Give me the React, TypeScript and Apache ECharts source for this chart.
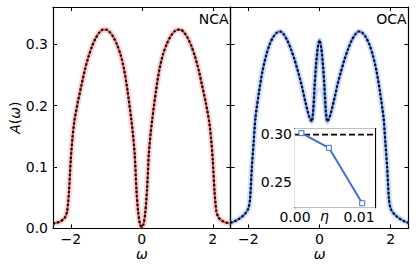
import React, { useEffect, useRef } from 'react';
import * as echarts from 'echarts';

// NCA panel: omega grid and spectral function
const ncaOmega = [-2.5, -2.4, -2.3, -2.2, -2.15, -2.1, -2.05, -2.0, -1.95, -1.9, -1.8, -1.7, -1.6, -1.5, -1.4, -1.3, -1.2, -1.1, -1.0, -0.9, -0.8, -0.7, -0.6, -0.5, -0.4, -0.3, -0.25, -0.2, -0.15, -0.1, -0.05, 0, 0.05, 0.1, 0.15, 0.2, 0.25, 0.3, 0.4, 0.5, 0.6, 0.7, 0.8, 0.9, 1.0, 1.1, 1.2, 1.3, 1.4, 1.5, 1.6, 1.7, 1.8, 1.9, 1.95, 2.0, 2.05, 2.1, 2.15, 2.2, 2.3, 2.4, 2.5];
const ncaA = [0.008, 0.009, 0.011, 0.015, 0.019, 0.028, 0.060, 0.112, 0.148, 0.174, 0.206, 0.233, 0.259, 0.280, 0.297, 0.310, 0.319, 0.324, 0.324, 0.320, 0.312, 0.300, 0.284, 0.260, 0.224, 0.180, 0.155, 0.122, 0.064, 0.026, 0.007, 0.002, 0.007, 0.026, 0.064, 0.122, 0.155, 0.180, 0.224, 0.260, 0.284, 0.300, 0.312, 0.320, 0.324, 0.324, 0.319, 0.310, 0.297, 0.280, 0.259, 0.233, 0.206, 0.174, 0.148, 0.112, 0.060, 0.028, 0.019, 0.015, 0.011, 0.009, 0.008];

// OCA panel
const ocaOmega = [-2.5, -2.4, -2.3, -2.2, -2.1, -2.0, -1.95, -1.9, -1.85, -1.8, -1.7, -1.6, -1.5, -1.4, -1.3, -1.2, -1.1, -1.0, -0.9, -0.8, -0.7, -0.6, -0.5, -0.4, -0.3, -0.25, -0.22, -0.18, -0.14, -0.1, -0.05, 0, 0.05, 0.1, 0.14, 0.18, 0.22, 0.25, 0.3, 0.4, 0.5, 0.6, 0.7, 0.8, 0.9, 1.0, 1.1, 1.2, 1.3, 1.4, 1.5, 1.6, 1.7, 1.8, 1.85, 1.9, 1.95, 2.0, 2.1, 2.2, 2.3, 2.4, 2.5];
const ocaA = [0.009, 0.011, 0.014, 0.018, 0.023, 0.032, 0.048, 0.100, 0.140, 0.180, 0.222, 0.257, 0.282, 0.300, 0.312, 0.319, 0.321, 0.316, 0.306, 0.292, 0.275, 0.255, 0.233, 0.207, 0.184, 0.177, 0.174, 0.190, 0.230, 0.265, 0.294, 0.307, 0.294, 0.265, 0.230, 0.190, 0.174, 0.177, 0.184, 0.207, 0.233, 0.255, 0.275, 0.292, 0.306, 0.316, 0.321, 0.319, 0.312, 0.300, 0.282, 0.257, 0.222, 0.180, 0.140, 0.100, 0.048, 0.032, 0.023, 0.018, 0.014, 0.011, 0.009];

// faint OCA curves with larger broadening, central region
const ocaCenterOmega = [-0.22, -0.18, -0.14, -0.1, -0.05, 0, 0.05, 0.1, 0.14, 0.18, 0.22];
const ocaEta005 = [0.174, 0.188, 0.225, 0.255, 0.278, 0.286, 0.278, 0.255, 0.225, 0.188, 0.174];
const ocaEta01 = [0.174, 0.184, 0.203, 0.215, 0.224, 0.228, 0.224, 0.215, 0.203, 0.184, 0.174];

// inset: central peak height vs eta
const insetEta = [0.001, 0.0053, 0.0105];
const insetPeak = [0.301, 0.2858, 0.2283];
const exactPeak = 0.2995;

const xTicks = [-2, 0, 2];
const yTicks = [0, 0.1, 0.2, 0.3];
const insetXTicks = [0, 0.01];
const insetYTicks = [0.25, 0.3];

const RED = '#d4504c';
const BLUE = '#3f6de0';
const FONT = 'DejaVu Sans';

const pair = (xs: number[], ys: number[]) => xs.map((x, i) => [x, ys[i]]);

const line = { show: true, onZero: false, lineStyle: { color: '#000', width: 1.2 } };
const tick = (vals: number[]) => ({ show: true, inside: true, length: 4, customValues: vals, lineStyle: { color: '#000', width: 1 } });
const minus = (v: number) => (v < 0 ? '\u2212' + Math.abs(v) : String(v));

function mainX(grid: number, pos: string, labels: boolean) {
  return {
    type: 'value', gridIndex: grid, position: pos, min: -2.5, max: 2.5,
    axisLine: line, axisTick: tick(xTicks), splitLine: { show: false },
    axisLabel: { show: labels, customValues: xTicks, formatter: minus, margin: 4, fontSize: 14, lineHeight: 14, color: '#000', fontFamily: FONT },
    name: labels ? 'ω' : '', nameLocation: 'middle', nameGap: 19, nameMoveOverlap: false,
    nameTextStyle: { fontSize: 14, lineHeight: 14, fontStyle: 'italic', color: '#000', fontFamily: FONT },
  };
}
function mainY(grid: number, pos: string, labels: boolean) {
  return {
    type: 'value', gridIndex: grid, position: pos, min: 0, max: 0.361,
    axisLine: line, axisTick: tick(yTicks), splitLine: { show: false },
    axisLabel: { show: labels, customValues: yTicks, formatter: (v: number) => v.toFixed(1), margin: 5, fontSize: 14, color: '#000', fontFamily: FONT },
    name: labels ? '{i|A}({i|ω})' : '', nameLocation: 'middle', nameGap: 31, nameMoveOverlap: false,
    nameTextStyle: { fontSize: 14, color: '#000', fontFamily: FONT, rich: { i: { fontSize: 14, fontStyle: 'italic', fontFamily: FONT, color: '#000' } } },
  };
}
function insetX(pos: string, labels: boolean) {
  return {
    type: 'value', gridIndex: 2, position: pos, min: 0, max: 0.0125,
    axisLine: line, axisTick: tick(insetXTicks), splitLine: { show: false },
    axisLabel: { show: labels, customValues: insetXTicks, formatter: (v: number) => v.toFixed(2), margin: 2, fontSize: 14, color: '#000', fontFamily: FONT },
  };
}
function insetY(pos: string, labels: boolean) {
  return {
    type: 'value', gridIndex: 2, position: pos, min: 0.2237, max: 0.306,
    axisLine: line, axisTick: tick(insetYTicks), splitLine: { show: false },
    axisLabel: { show: labels, customValues: insetYTicks, formatter: (v: number) => v.toFixed(2), margin: 3, fontSize: 14, color: '#000', fontFamily: FONT },
  };
}

function curveSeries(xi: number, yi: number, data: number[][], color: string) {
  return [
    { type: 'line', xAxisIndex: xi, yAxisIndex: yi, data, symbol: 'none', smooth: 0.25, z: 2,
      lineStyle: { color, width: 6, opacity: 0.22 } },
    { type: 'line', xAxisIndex: xi, yAxisIndex: yi, data, symbol: 'none', smooth: 0.25, z: 3,
      lineStyle: { color, width: 2 } },
    { type: 'line', xAxisIndex: xi, yAxisIndex: yi, data, symbol: 'none', smooth: 0.25, z: 4,
      lineStyle: { color: '#000', width: 2.2, type: [2, 2.3], cap: 'butt' } },
  ];
}

export default function App() {
  const ref = useRef<HTMLDivElement>(null);
  useEffect(() => {
    const chart = echarts.init(ref.current as HTMLDivElement, null, { renderer: 'svg' });
    chart.setOption({
      animation: false,
      backgroundColor: '#fff',
      textStyle: { fontFamily: FONT },
      grid: [
        { left: 53, top: 7, width: 177.5, height: 221.3 },
        { left: 230.5, top: 7, width: 178, height: 221.3 },
        { left: 295, top: 128.3, width: 80, height: 79.4, show: true, backgroundColor: '#fff', borderColor: '#000', borderWidth: 0, z: 5 },
      ],
      xAxis: [mainX(0, 'bottom', true), mainX(0, 'top', false), mainX(1, 'bottom', true), mainX(1, 'top', false), insetX('bottom', true), insetX('top', false)],
      yAxis: [mainY(0, 'left', true), mainY(0, 'right', false), mainY(1, 'left', false), mainY(1, 'right', false), insetY('left', true), insetY('right', false)],
      series: [
        ...curveSeries(0, 0, pair(ncaOmega, ncaA), RED),
        { type: 'line', xAxisIndex: 2, yAxisIndex: 2, data: pair(ocaCenterOmega, ocaEta005), symbol: 'none', smooth: 0.25, z: 2, lineStyle: { color: BLUE, width: 3, opacity: 0.2 } },
        { type: 'line', xAxisIndex: 2, yAxisIndex: 2, data: pair(ocaCenterOmega, ocaEta01), symbol: 'none', smooth: 0.25, z: 2, lineStyle: { color: BLUE, width: 3, opacity: 0.15 } },
        ...curveSeries(2, 2, pair(ocaOmega, ocaA), BLUE),
        { type: 'line', xAxisIndex: 4, yAxisIndex: 4, data: [[0, exactPeak], [0.0125, exactPeak]], symbol: 'none', z: 10,
          lineStyle: { color: '#000', width: 1.8, type: [6, 3] } },
        { type: 'line', xAxisIndex: 4, yAxisIndex: 4, data: pair(insetEta, insetPeak), z: 11,
          symbol: 'rect', symbolSize: 5, itemStyle: { color: '#fff', borderColor: BLUE, borderWidth: 1 },
          lineStyle: { color: BLUE, width: 2 } },
      ],
      graphic: [
        { type: 'text', right: 416 - 228.5, top: 12, style: { text: 'NCA', font: '14px "DejaVu Sans"', fill: '#000' } },
        { type: 'text', right: 416 - 406.5, top: 12, style: { text: 'OCA', font: '14px "DejaVu Sans"', fill: '#000' } },
        { type: 'text', left: 320, top: 209, style: { text: 'η', font: 'italic 14px "DejaVu Sans"', fill: '#000' } },
      ],
    });
    return () => chart.dispose();
  }, []);
  return <div ref={ref} style={{ position: 'absolute', left: 0, top: 0, width: 416, height: 272 }} />;
}
